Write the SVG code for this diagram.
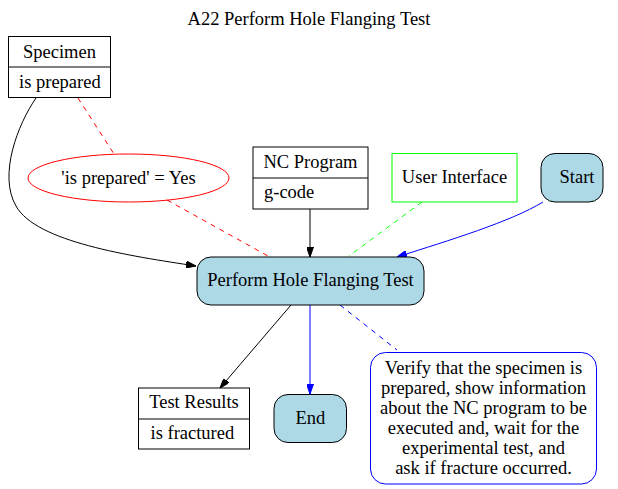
<svg xmlns="http://www.w3.org/2000/svg" width="618" height="489" viewBox="0 0 618 489">
<style>
text{font-family:"Liberation Serif","Times New Roman",serif;font-size:18.5px;fill:#000}
.c{text-anchor:middle}
.box{fill:#fff;stroke:#000;stroke-width:1}
.rnd{fill:#add8e6;stroke:#000;stroke-width:1}
.e{fill:none;stroke-width:1}
</style>
<defs>
<marker id="ab" markerWidth="10" markerHeight="7" refX="10" refY="3.5" orient="auto" markerUnits="userSpaceOnUse"><path d="M0,0 L10,3.5 L0,7 z" fill="#000" stroke="#000"/></marker>
<marker id="ablue" markerWidth="10" markerHeight="7" refX="10" refY="3.5" orient="auto" markerUnits="userSpaceOnUse"><path d="M0,0 L10,3.5 L0,7 z" fill="#00f" stroke="#00f"/></marker>
</defs>
<rect width="618" height="489" fill="#fff"/>
<text class="c" x="309" y="25">A22 Perform Hole Flanging Test</text>
<g id="connectors">
<path class="e" stroke="#000" d="M36,98 C18,124 -2,175 16,206 C36,242 130,256 196,266" marker-end="url(#ab)"/>
<path class="e" stroke="#f00" stroke-dasharray="5,5" d="M78,98 L114,154"/>
<path class="e" stroke="#f00" stroke-dasharray="5,5" d="M167,200 L268,256"/>
<path class="e" stroke="#000" d="M310,209 L310,257" marker-end="url(#ab)"/>
<path class="e" stroke="#0f0" stroke-dasharray="5,5" d="M422,202 L349,256"/>
<path class="e" stroke="#00f" d="M543,202 C510,222 450,240 397,257" marker-end="url(#ablue)"/>
<path class="e" stroke="#000" d="M291,305 L220,388" marker-end="url(#ab)"/>
<path class="e" stroke="#00f" d="M310,305 L310,394" marker-end="url(#ablue)"/>
<path class="e" stroke="#00f" stroke-dasharray="5,5" d="M340,305 L397,350"/>
</g>
<g id="specimen">
<rect class="box" x="8.5" y="36.5" width="102" height="61"/>
<line x1="8.5" y1="67" x2="110.5" y2="67" stroke="#000"/>
<text class="c" x="59.5" y="58">Specimen</text>
<text x="19" y="88">is prepared</text>
</g>
<g id="guard">
<ellipse cx="128.5" cy="178" rx="100.5" ry="24" fill="none" stroke="#f00"/>
<text class="c" x="128.5" y="183.5">'is prepared' = Yes</text>
</g>
<g id="ncprogram">
<rect class="box" x="253" y="147" width="115" height="62"/>
<line x1="253" y1="178" x2="368" y2="178" stroke="#000"/>
<text class="c" x="310.5" y="168">NC Program</text>
<text x="264" y="198">g-code</text>
</g>
<g id="ui">
<rect x="392" y="153.5" width="125" height="48.5" fill="#fff" stroke="#0f0"/>
<text class="c" x="454.5" y="182.5">User Interface</text>
</g>
<g id="start">
<rect class="rnd" x="541" y="153.5" width="62" height="48.5" rx="14"/>
<text class="c" x="577" y="182.5">Start</text>
</g>
<g id="main">
<rect class="rnd" x="197" y="257" width="227" height="48" rx="14"/>
<text class="c" x="310.5" y="286">Perform Hole Flanging Test</text>
</g>
<g id="testresults">
<rect class="box" x="138.5" y="388" width="111" height="61"/>
<line x1="138.5" y1="419" x2="249.5" y2="419" stroke="#000"/>
<text class="c" x="194" y="408">Test Results</text>
<text x="150.5" y="438.5">is fractured</text>
</g>
<g id="end">
<rect class="rnd" x="274" y="394.5" width="72.5" height="48" rx="14"/>
<text class="c" x="310.3" y="423.5">End</text>
</g>
<g id="note">
<rect x="370.5" y="352.5" width="226" height="131.5" rx="15" fill="#fff" stroke="#00f"/>
<text class="c" x="483.5" y="373.5">Verify that the specimen is</text>
<text class="c" x="483.5" y="393.5">prepared, show information</text>
<text class="c" x="483.5" y="413.5">about the NC program to be</text>
<text class="c" x="483.5" y="433.5">executed and, wait for the</text>
<text class="c" x="483.5" y="453.5">experimental test, and</text>
<text class="c" x="483.5" y="473.5">ask if fracture occurred.</text>
</g>
</svg>
